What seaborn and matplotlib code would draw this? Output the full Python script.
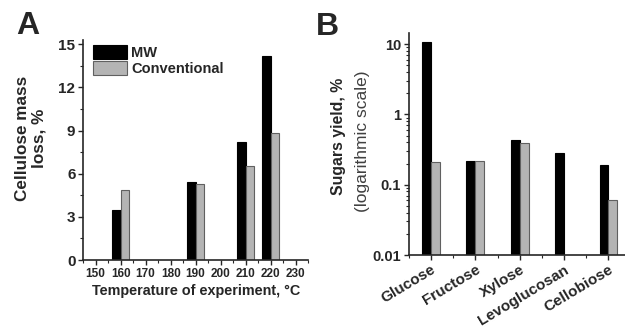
import matplotlib
matplotlib.use("Agg")
import matplotlib.pyplot as plt
import seaborn as sns
import pandas as pd
import numpy as np
from matplotlib.ticker import MultipleLocator, LogLocator, NullFormatter

# Panel A data
temps = [160, 190, 210, 220]
mw_loss = [3.45, 5.4, 8.2, 14.2]
conv_loss = [4.85, 5.3, 6.5, 8.8]

# Panel B data
sugars = ["Glucose", "Fructose", "Xylose", "Levoglucosan", "Cellobiose"]
mw_yield = [10.6, 0.22, 0.435, 0.28, 0.19]
conv_yield = [0.21, 0.22, 0.395, np.nan, 0.061]

methods = ["MW", "Conventional"]

sns.set_theme(style="ticks")
plt.rcParams['font.family'] = ['Liberation Sans', 'DejaVu Sans']
plt.rcParams['font.weight'] = 'bold'

dfA = pd.DataFrame({
    "temp": temps * 2,
    "loss": mw_loss + conv_loss,
    "method": [methods[0]] * len(temps) + [methods[1]] * len(temps),
})
dfB = pd.DataFrame({
    "sugar": sugars * 2,
    "yield": mw_yield + conv_yield,
    "method": [methods[0]] * len(sugars) + [methods[1]] * len(sugars),
})

palette = {"MW": "#000000", "Conventional": "#b4b4b4"}

fig = plt.figure(figsize=(6.25, 3.31), dpi=100)
axA = fig.add_axes([0.133, 0.2145, 0.36, 0.665])
axB = fig.add_axes([0.654, 0.2296, 0.355, 0.671])

sns.barplot(data=dfA, x="temp", y="loss", hue="method", palette=palette,
            native_scale=True, width=0.7, ax=axA, saturation=1, errorbar=None)
for p in axA.patches:
    fc = p.get_facecolor()
    p.set_edgecolor("#000000" if fc[0] < 0.2 else "#606060")
    p.set_linewidth(0.8)
axA.set_xlim(145, 235)
axA.set_ylim(0, 15.3)
axA.set_xticks(range(150, 231, 10))
axA.set_yticks([0, 3, 6, 9, 12, 15])
axA.xaxis.set_minor_locator(MultipleLocator(5))
axA.yaxis.set_minor_locator(MultipleLocator(1.5))
axA.tick_params(axis="both", which="major", direction="out", length=3.5, width=1, pad=2)
axA.tick_params(axis="both", which="minor", direction="out", length=2, width=0.8)
axA.tick_params(axis="x", labelsize=8.5)
axA.tick_params(axis="y", labelsize=11)
axA.set_xlabel("Temperature of experiment, °C", fontsize=10.4, fontweight="bold", labelpad=3)
axA.set_ylabel("")
for lab in axA.get_xticklabels() + axA.get_yticklabels():
    lab.set_fontweight("bold")
sns.despine(ax=axA)
for s in axA.spines.values():
    s.set_linewidth(1.2)
leg = axA.legend(loc="upper left", bbox_to_anchor=(0.044, 0.975), frameon=False,
                 fontsize=10.5, handlelength=2.3, handleheight=1.1, handletextpad=0.3,
                 labelspacing=0.05, borderaxespad=0, borderpad=0)
for t in leg.get_texts():
    t.set_fontweight("bold")
for h, ec in zip(leg.legend_handles, ["#000000", "#606060"]):
    h.set_edgecolor(ec)
    h.set_linewidth(0.8)
fig.text(0.049, 0.583, "Cellulose mass\nloss, %", rotation=90, ha="center", va="center",
         multialignment="center", fontsize=12.3, fontweight="bold", linespacing=1.15)

axB.set_yscale("log")
sns.barplot(data=dfB, x="sugar", y="yield", hue="method", palette=palette,
            width=0.4, ax=axB, saturation=1, errorbar=None, legend=False)
for p in axB.patches:
    fc = p.get_facecolor()
    p.set_edgecolor("#000000" if fc[0] < 0.2 else "#606060")
    p.set_linewidth(0.8)
axB.set_ylim(0.01, 14.4)
axB.set_xlim(-0.5, 4.5)
axB.yaxis.set_minor_locator(LogLocator(base=10, subs=np.arange(2, 10), numticks=10))
axB.yaxis.set_minor_formatter(NullFormatter())
axB.set_yticks([0.01, 0.1, 1, 10])
axB.set_yticklabels(["0.01", "0.1", "1", "10"])
axB.set_xticks(np.arange(-0.5, 5, 0.5), minor=True)
axB.tick_params(axis="both", which="major", direction="out", length=3.5, width=1, pad=2)
axB.tick_params(axis="both", which="minor", direction="out", length=2, width=0.8)
axB.tick_params(axis="y", labelsize=10.5)
axB.tick_params(axis="x", labelsize=11)
for lab in axB.get_xticklabels():
    lab.set_rotation(31)
    lab.set_ha("right")
    lab.set_rotation_mode("anchor")
    lab.set_fontweight("bold")
for lab in axB.get_yticklabels():
    lab.set_fontweight("bold")
axB.set_xlabel("")
axB.set_ylabel("")
sns.despine(ax=axB)
for s in axB.spines.values():
    s.set_linewidth(1.2)
fig.text(0.542, 0.589, "Sugars yield, %", rotation=90, ha="center", va="center",
         fontsize=11.4, fontweight="bold")
fig.text(0.580, 0.574, "(logarithmic scale)", rotation=90, ha="center", va="center",
         fontsize=12.5, fontweight="normal", color="#404040")

fig.text(0.026, 0.968, "A", fontsize=23, fontweight="bold", va="top", ha="left")
fig.text(0.505, 0.965, "B", fontsize=23, fontweight="bold", va="top", ha="left")

fig.savefig("out.png", dpi=100)
